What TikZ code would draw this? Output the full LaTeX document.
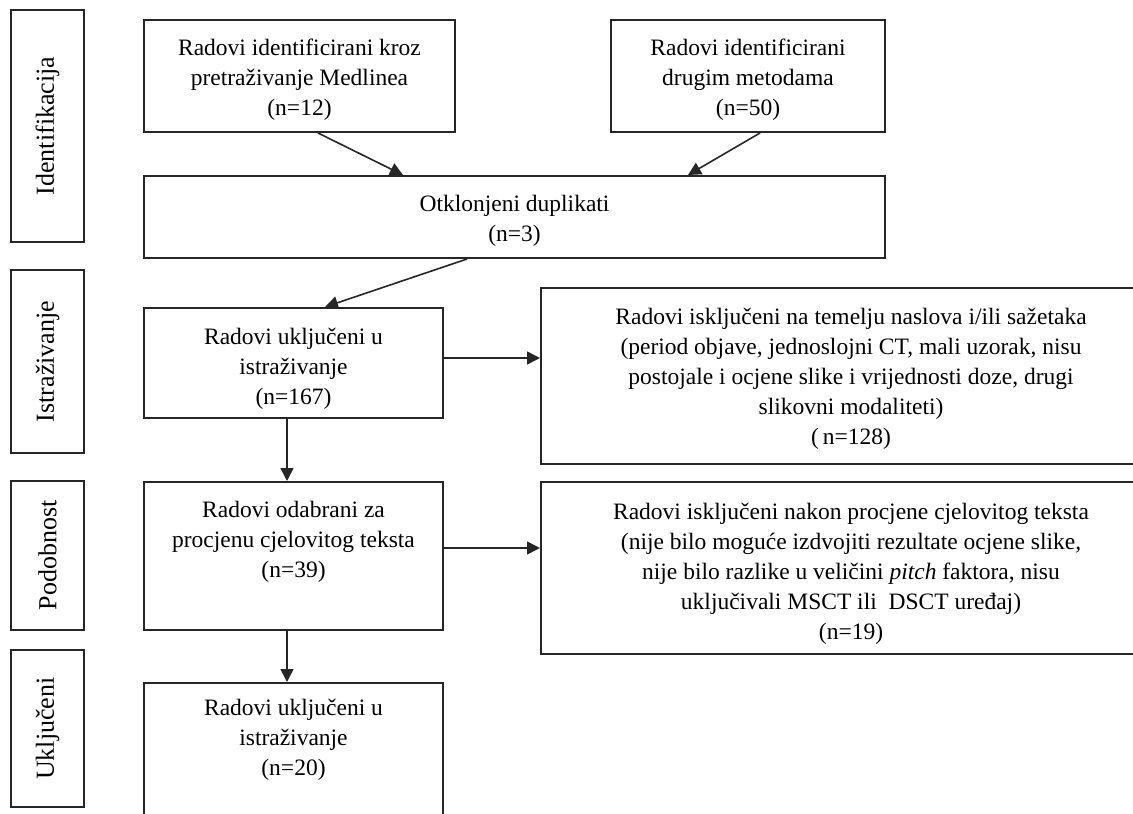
\documentclass[tikz,border=0pt]{standalone}
\usepackage{fontspec}
\setmainfont{Liberation Serif}
\usetikzlibrary{arrows.meta}
\begin{document}
\begin{tikzpicture}[x=1pt,y=-1pt,
  box/.style={draw=black!85, line width=2pt, anchor=north west, inner sep=0pt},
  side/.style={box},
  txt/.style={anchor=north, align=center, inner sep=0pt, font=\fontsize{23.5}{30}\selectfont},
  sidetxt/.style={rotate=90, inner sep=0pt, font=\fontsize{26}{30}\selectfont},
  arr/.style={draw=black!85, line width=1.6pt, -{Triangle[length=13pt,width=13pt]}}]
\clip (0,0) rectangle (1133,814);
\fill[white] (0,0) rectangle (1133,814);
% side labels
\node[side, minimum width=73pt, minimum height=232pt] (l1) at (10,9) {};
\node[sidetxt] at (l1.center) {Identifikacija};
\node[side, minimum width=73pt, minimum height=183pt] (l2) at (10,269) {};
\node[sidetxt] at (l2.center) {Istraživanje};
\node[side, minimum width=73pt, minimum height=149pt] (l3) at (10,480) {};
\node[sidetxt] at (l3.center) {Podobnost};
\node[side, minimum width=73pt, minimum height=157pt] (l4) at (10,649) {};
\node[sidetxt] at (l4.center) {Uključeni};
% boxes
\node[box, minimum width=311pt, minimum height=112pt] (b1) at (143,19) {};
\node[txt] at ([yshift=-20pt]b1.north) {Radovi identificirani kroz\\pretraživanje Medlinea\\(n=12)};
\node[box, minimum width=274pt, minimum height=112pt] (b2) at (610,19) {};
\node[txt] at ([yshift=-20pt]b2.north) {Radovi identificirani\\drugim metodama\\(n=50)};
\node[box, minimum width=741pt, minimum height=82pt] (dup) at (143,175) {};
\node[txt] at ([yshift=-20pt]dup.north) {Otklonjeni duplikati\\(n=3)};
\node[box, minimum width=299pt, minimum height=110pt] (s1) at (143,307) {};
\node[txt] at ([yshift=-21pt]s1.north) {Radovi uključeni u\\istraživanje\\(n=167)};
\node[box, minimum width=620pt, minimum height=176pt] (e1) at (540,287) {};
\node[txt] at ([yshift=-21pt]e1.north) {Radovi isključeni na temelju naslova i/ili sažetaka\\(period objave, jednoslojni CT, mali uzorak, nisu\\postojale i ocjene slike i vrijednosti\ doze, drugi\\slikovni modaliteti)\\(\,n=128)};
\node[box, minimum width=299pt, minimum height=148pt] (s2) at (143,481) {};
\node[txt] at ([yshift=-20pt]s2.north) {Radovi odabrani za\\procjenu cjelovitog teksta\\(n=39)};
\node[box, minimum width=620pt, minimum height=172pt] (e2) at (540,481) {};
\node[txt] at ([yshift=-22pt]e2.north) {Radovi isključeni nakon procjene cjelovitog teksta\\(nije bilo\ moguće izdvojiti rezultate ocjene slike,\\nije bilo razlike u veličini \textit{pitch} faktora, nisu\\uključivali MSCT ili\ \ DSCT uređaj)\\(n=19)};
\node[box, minimum width=299pt, minimum height=160pt] (s3) at (143,682) {};
\node[txt] at ([yshift=-17pt]s3.north) {Radovi uključeni u\\istraživanje\\(n=20)};
% connectors
\draw[arr] ([xshift=175pt]b1.south west) -- ([xshift=260pt]dup.north west);
\draw[arr] ([xshift=150pt]b2.south west) -- ([xshift=545pt]dup.north west);
\draw[arr] ([xshift=324pt]dup.south west) -- ([xshift=182pt]s1.north west);
\draw[arr] ([yshift=5pt]s1.east) -- ([yshift=5pt]s1.east -| e1.west);
\draw[arr] ([xshift=-6.5pt]s1.south) -- ([xshift=-6.5pt]s2.north);
\draw[arr] ([yshift=8pt]s2.east) -- ([yshift=8pt]s2.east -| e2.west);
\draw[arr] ([xshift=-6.5pt]s2.south) -- ([xshift=-6.5pt]s3.north);
\end{tikzpicture}
\end{document}
